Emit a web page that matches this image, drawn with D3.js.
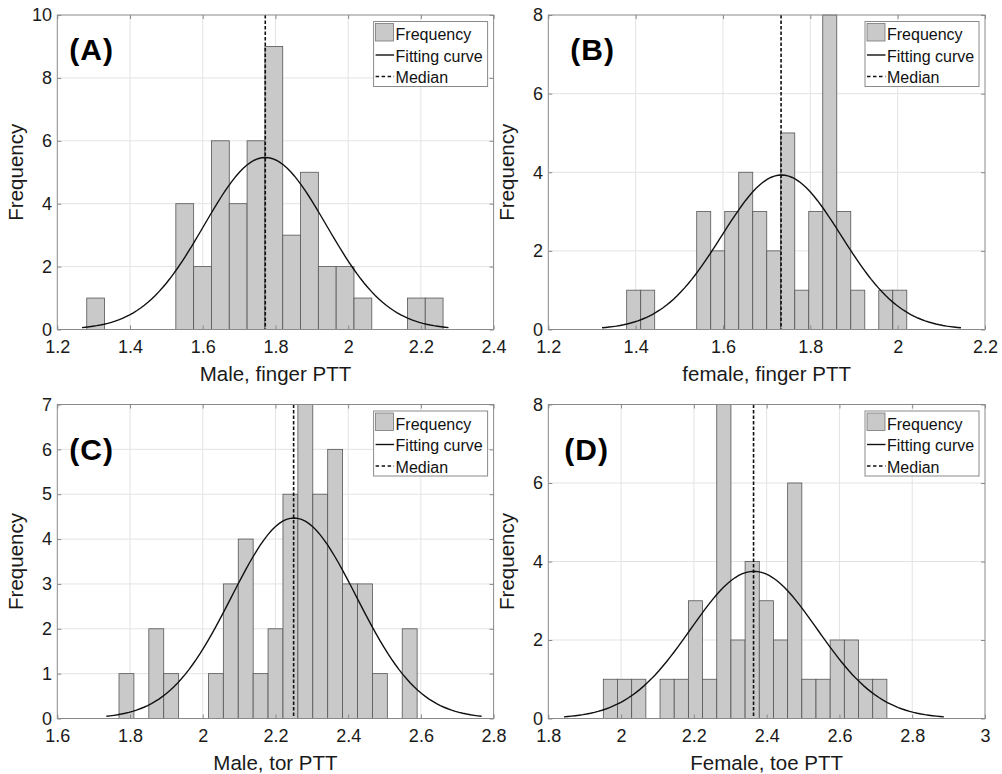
<!DOCTYPE html>
<html>
<head>
<meta charset="utf-8">
<script src="https://cdn.jsdelivr.net/npm/d3@7"></script>
<style>
  body { margin: 0; background: #fff; }
  svg { display: block; font-family: "Liberation Sans", Arial, sans-serif; }
  .tick text { fill: #1a1a1a; }
</style>
</head>
<body>
<div class="chart"></div>
<script>
// panel labels and axis titles
const panelTags = ["(A)", "(B)", "(C)", "(D)"];
const xTitles = ["Male, finger PTT", "female, finger PTT", "Male, tor PTT", "Female, toe PTT"];

// histogram bins: first edge and width, then counts
const binStart = [1.281, 1.3795, 1.7697, 1.9512];
const binWidth = [0.049, 0.03207, 0.041, 0.03896];
const countsA = [1, 0, 0, 0, 0, 4, 2, 6, 4, 6, 9, 3, 5, 2, 2, 1, 0, 0, 1, 1];
const countsB = [1, 1, 0, 0, 0, 3, 2, 3, 4, 3, 2, 5, 1, 3, 8, 3, 1, 0, 1, 1];
const countsC = [1, 0, 2, 1, 0, 0, 1, 3, 4, 1, 2, 5, 7, 5, 6, 3, 3, 1, 0, 2];
const countsD = [1, 1, 1, 0, 1, 1, 3, 1, 8, 2, 4, 3, 2, 6, 1, 1, 2, 2, 1, 1];
const allCounts = [countsA, countsB, countsC, countsD];

// median and fitted normal curve
const medians = [1.772, 1.733, 2.250, 2.364];
const fitMu = [1.772, 1.734, 2.251, 2.365];
const fitSigma = [0.168, 0.137, 0.172, 0.174];
const fitPeak = [5.47, 3.93, 4.47, 3.75];

// axes
const xDomains = [[1.2, 2.4], [1.2, 2.2], [1.6, 2.8], [1.8, 3.0]];
const xTicks = [
  [1.2, 1.4, 1.6, 1.8, 2.0, 2.2, 2.4],
  [1.2, 1.4, 1.6, 1.8, 2.0, 2.2],
  [1.6, 1.8, 2.0, 2.2, 2.4, 2.6, 2.8],
  [1.8, 2.0, 2.2, 2.4, 2.6, 2.8, 3.0]
];
const yMax = [10, 8, 7, 8];
const yTicks = [
  [0, 2, 4, 6, 8, 10],
  [0, 2, 4, 6, 8],
  [0, 1, 2, 3, 4, 5, 6, 7],
  [0, 2, 4, 6, 8]
];
const legendItems = ["Frequency", "Fitting curve", "Median"];

// layout
const W = 1002, H = 774;
const boxes = [
  { left: 57.3, right: 493.6, top: 15, bottom: 329.5, tagX: 12, tagY: 45 },
  { left: 548.3, right: 985, top: 15, bottom: 329.5, tagX: 22, tagY: 45 },
  { left: 57.3, right: 493.6, top: 404.5, bottom: 718.5, tagX: 12, tagY: 55.5 },
  { left: 548.3, right: 985, top: 404.5, bottom: 718.5, tagX: 16, tagY: 55.5 }
];

const svg = d3.select(".chart").append("svg")
  .attr("width", W).attr("height", H);

const fmt = d => d3.format("~g")(+d.toFixed(2));

boxes.forEach((b, i) => {
  const w = b.right - b.left, h = b.bottom - b.top;
  const x = d3.scaleLinear().domain(xDomains[i]).range([0, w]);
  const y = d3.scaleLinear().domain([0, yMax[i]]).range([h, 0]);
  const g = svg.append("g").attr("transform", `translate(${b.left},${b.top})`);

  // grid
  g.append("g").selectAll("line").data(xTicks[i].slice(1, -1)).enter().append("line")
    .attr("x1", d => x(d)).attr("x2", d => x(d)).attr("y1", 0).attr("y2", h)
    .attr("stroke", "#e3e3e3").attr("stroke-width", 1);
  g.append("g").selectAll("line").data(yTicks[i].slice(1, -1)).enter().append("line")
    .attr("y1", d => y(d)).attr("y2", d => y(d)).attr("x1", 0).attr("x2", w)
    .attr("stroke", "#e3e3e3").attr("stroke-width", 1);

  // bars
  const bins = allCounts[i].map((c, k) => ({
    x0: binStart[i] + k * binWidth[i],
    x1: binStart[i] + (k + 1) * binWidth[i],
    c: c
  })).filter(d => d.c > 0);
  g.append("g").selectAll("rect").data(bins).enter().append("rect")
    .attr("x", d => x(d.x0))
    .attr("width", d => x(d.x1) - x(d.x0))
    .attr("y", d => y(d.c))
    .attr("height", d => y(0) - y(d.c))
    .attr("fill", "#c9c9c9")
    .attr("stroke", "#555")
    .attr("stroke-width", 0.8);

  // fitted curve
  const mu = fitMu[i], s = fitSigma[i];
  const xs = d3.range(101).map(k => mu - 3 * s + k * 6 * s / 100);
  const line = d3.line()
    .x(d => x(d))
    .y(d => y(fitPeak[i] * Math.exp(-((d - mu) ** 2) / (2 * s * s))));
  g.append("path").datum(xs).attr("d", line)
    .attr("fill", "none").attr("stroke", "#111").attr("stroke-width", 1.4);

  // median
  g.append("line")
    .attr("x1", x(medians[i])).attr("x2", x(medians[i]))
    .attr("y1", 0).attr("y2", h)
    .attr("stroke", "#111").attr("stroke-width", 1.6)
    .attr("stroke-dasharray", "3.5,2");

  // axes
  g.append("g").attr("transform", `translate(0,${h})`)
    .call(d3.axisBottom(x).tickValues(xTicks[i]).tickFormat(fmt)
      .tickSizeInner(-4).tickSizeOuter(0).tickPadding(10.5));
  g.append("g")
    .call(d3.axisLeft(y).tickValues(yTicks[i]).tickFormat(d3.format("d"))
      .tickSizeInner(-4).tickSizeOuter(0).tickPadding(5.3));
  g.append("g").call(d3.axisTop(x).tickValues(xTicks[i]).tickFormat("")
    .tickSizeInner(-4).tickSizeOuter(0));
  g.append("g").attr("transform", `translate(${w},0)`)
    .call(d3.axisRight(y).tickValues(yTicks[i]).tickFormat("")
      .tickSizeInner(-4).tickSizeOuter(0));
  g.selectAll(".domain").remove();
  g.selectAll(".tick line").attr("stroke", "#8a8a8a");
  g.selectAll(".tick text").attr("font-size", 18).attr("font-family", "Liberation Sans, Arial, sans-serif");

  g.append("rect").attr("width", w).attr("height", h)
    .attr("fill", "none").attr("stroke", "#8a8a8a").attr("stroke-width", 1);

  // titles
  g.append("text")
    .attr("x", w / 2).attr("y", h + 51.5)
    .attr("text-anchor", "middle")
    .attr("font-size", 20.5).attr("fill", "#1a1a1a")
    .text(xTitles[i]);
  g.append("text")
    .attr("transform", `translate(-34.3,${h / 2}) rotate(-90)`)
    .attr("text-anchor", "middle")
    .attr("font-size", 20.5).attr("fill", "#1a1a1a")
    .text("Frequency");

  // panel tag
  g.append("text")
    .attr("x", b.tagX).attr("y", b.tagY)
    .attr("font-size", 30).attr("font-weight", "bold").attr("fill", "#000")
    .attr("letter-spacing", 1)
    .text(panelTags[i]);

  // legend
  const lw = 114, lh = 65;
  const lg = g.append("g").attr("transform", `translate(${w - 6 - lw},6.5)`);
  lg.append("rect").attr("width", lw).attr("height", lh)
    .attr("fill", "#fff").attr("stroke", "#8a8a8a").attr("stroke-width", 1);
  lg.append("rect").attr("x", 2).attr("y", 2).attr("width", 18).attr("height", 17.5)
    .attr("fill", "#c9c9c9").attr("stroke", "#777").attr("stroke-width", 0.8);
  lg.append("line").attr("x1", 2).attr("x2", 20.5).attr("y1", 33.5).attr("y2", 33.5)
    .attr("stroke", "#111").attr("stroke-width", 1.4);
  lg.append("line").attr("x1", 2).attr("x2", 20.5).attr("y1", 55).attr("y2", 55)
    .attr("stroke", "#111").attr("stroke-width", 1.4).attr("stroke-dasharray", "3.5,2.5");
  lg.selectAll("text.li").data(legendItems).enter().append("text")
    .attr("class", "li")
    .attr("x", 22).attr("y", (d, k) => 18.5 + k * 21.5)
    .attr("font-size", 16).attr("fill", "#111")
    .text(d => d);
});
</script>
</body>
</html>
